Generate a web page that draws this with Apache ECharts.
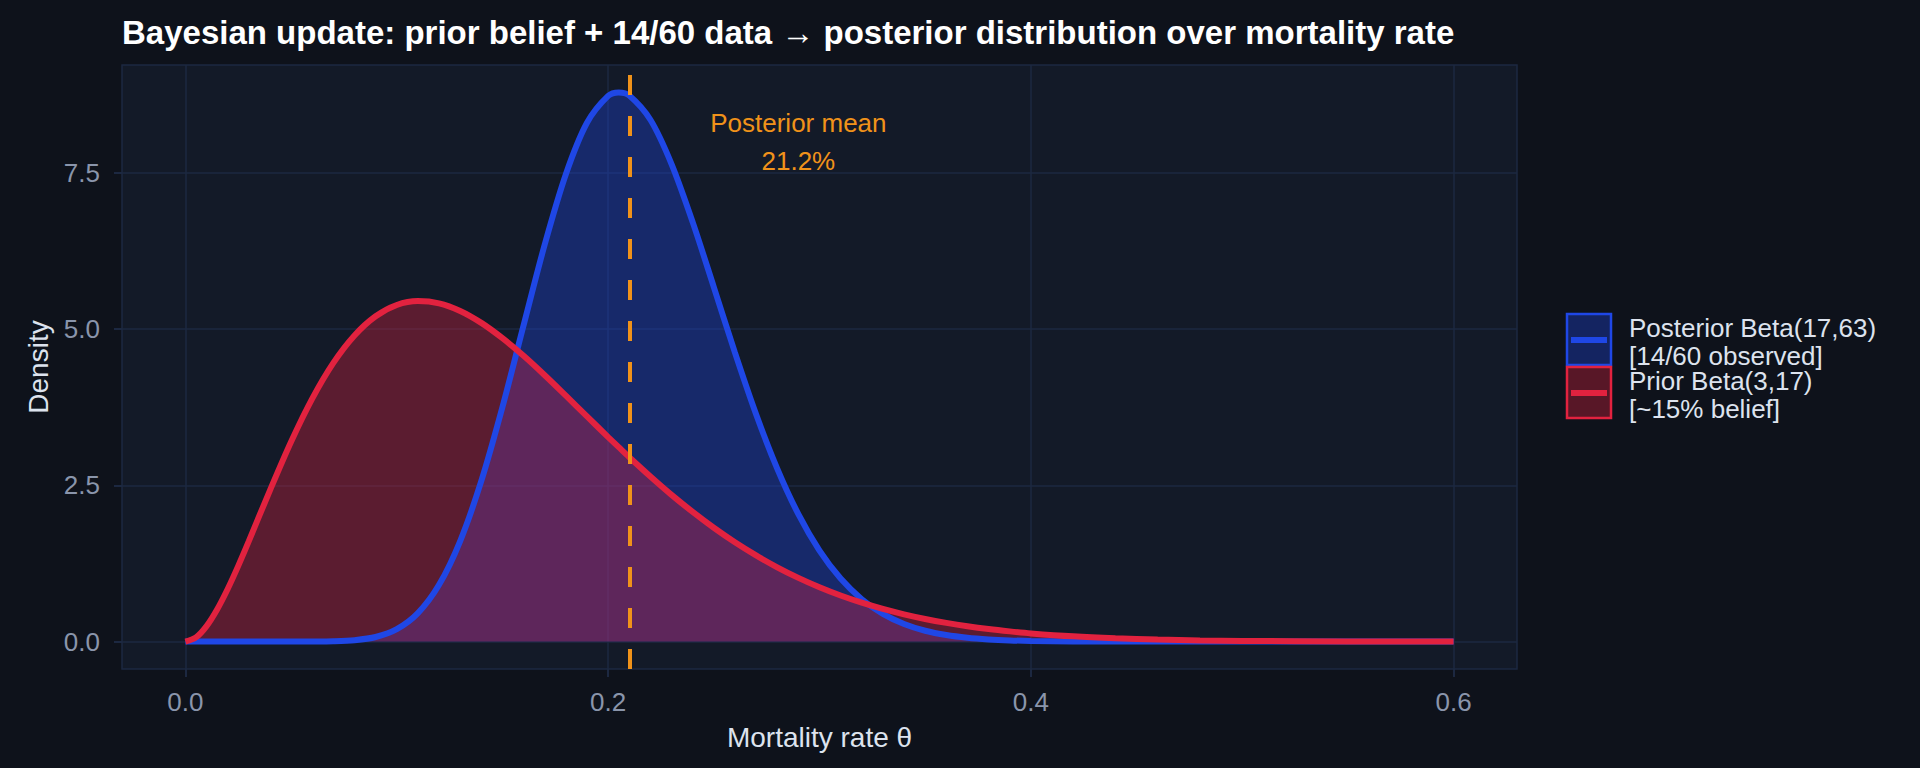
<!DOCTYPE html>
<html>
<head>
<meta charset="utf-8">
<title>Bayesian update</title>
<script src="https://cdn.jsdelivr.net/npm/echarts@6.0.0/dist/echarts.min.js"></script>
<style>
  html, body { margin: 0; padding: 0; background: #0e121b; }
  #main { width: 1920px; height: 768px; }
</style>
</head>
<body>
<div id="main"></div>
<script>
// mortality rate grid (theta) and the two densities
var theta = [0, 0.005, 0.01, 0.015, 0.02, 0.025, 0.03, 0.04, 0.05, 0.06, 0.07, 0.08, 0.09,
  0.10, 0.11, 0.12, 0.13, 0.14, 0.15, 0.16, 0.17, 0.18, 0.19,
  0.20, 0.205, 0.21, 0.22, 0.23, 0.24, 0.25, 0.26, 0.27, 0.28, 0.29,
  0.30, 0.31, 0.32, 0.33, 0.34, 0.35, 0.36, 0.37, 0.38, 0.39,
  0.40, 0.42, 0.44, 0.46, 0.48, 0.50, 0.55, 0.60];
var priorDensity = [0, 0.067, 0.248, 0.514, 0.842, 1.212, 1.607, 2.421, 3.199, 3.889, 4.461, 4.900, 5.207,
  5.387, 5.450, 5.414, 5.292, 5.101, 4.856, 4.573, 4.262, 3.935, 3.604,
  3.273, 3.111, 2.950, 2.642, 2.348, 2.075, 1.821, 1.589, 1.379, 1.189, 1.020,
  0.870, 0.738, 0.622, 0.522, 0.436, 0.362, 0.299, 0.245, 0.200, 0.163,
  0.131, 0.084, 0.053, 0.032, 0.019, 0.011, 0.0025, 0.0005];
var postDensity = [0, 0, 0, 0, 0, 0, 0, 0, 0.0001, 0.0008, 0.005, 0.022, 0.073,
  0.198, 0.455, 0.908, 1.609, 2.571, 3.754, 5.062, 6.355, 7.480, 8.303,
  8.733, 8.789, 8.739, 8.351, 7.642, 6.713, 5.674, 4.624, 3.638, 2.769, 2.039,
  1.456, 1.008, 0.678, 0.443, 0.281, 0.173, 0.104, 0.061, 0.035, 0.019,
  0.010, 0.003, 0.001, 0, 0, 0, 0, 0];
var xTicks = [0, 0.2, 0.4, 0.6];
var yTicks = [0, 2.5, 5, 7.5];
var posteriorMean = 0.2125;
var meanLabel = 'Posterior mean\n21.2%';
var meanLabelAt = [0.29, 8.0];
var legendLines = [['Posterior Beta(17,63)', '[14/60 observed]'], ['Prior Beta(3,17)', '[~15% belief]']];

var BLUE = '#1f47e6', RED = '#e2223f', ORANGE = '#f0921a';
var BLUE_FILL = 'rgba(31,71,230,0.35)', RED_FILL = 'rgba(226,34,63,0.35)';
var GRID = '#1c2841';
var FONT = '"Liberation Sans", Arial, Helvetica, sans-serif';

function pairs(ys) {
  var out = [];
  for (var i = 0; i < theta.length; i++) out.push([theta[i], ys[i]]);
  return out;
}

var dom = document.getElementById('main');
var myChart = echarts.init(dom, null, { renderer: 'svg' });

// legend drawn by hand: filled key with border and a line through it
var legendGraphic = [];
var keyColors = [[BLUE, BLUE_FILL], [RED, RED_FILL]];
for (var k = 0; k < 2; k++) {
  var keyTop = 314 + k * 53;
  legendGraphic.push({ type: 'rect', x: 1567, y: keyTop, shape: { x: 0, y: 0, width: 44, height: 51 },
    style: { fill: keyColors[k][1], stroke: keyColors[k][0], lineWidth: 2.5 } });
  legendGraphic.push({ type: 'line', shape: { x1: 1571, y1: keyTop + 26, x2: 1607, y2: keyTop + 26 },
    style: { stroke: keyColors[k][0], lineWidth: 6 } });
  for (var j = 0; j < 2; j++) {
    legendGraphic.push({ type: 'text', x: 1629, y: keyTop + 14 + j * 28,
      style: { text: legendLines[k][j], fill: '#dde3ee', font: '26px ' + FONT,
        lineHeight: 24, verticalAlign: 'middle' } });
  }
}

var option = {
  backgroundColor: '#0e121b',
  animation: false,
  title: {
    text: 'Bayesian update: prior belief + 14/60 data \u2192 posterior distribution over mortality rate',
    left: 117, top: 11,
    textStyle: { color: '#ffffff', fontSize: 33, fontWeight: 'bold', fontFamily: FONT }
  },
  grid: {
    left: 122, right: 403, top: 65, bottom: 99,
    show: true, backgroundColor: '#131a28', borderColor: GRID, borderWidth: 1.5
  },
  xAxis: {
    type: 'value', min: -0.03, max: 0.63,
    name: 'Mortality rate \u03b8', nameLocation: 'middle', nameGap: 54,
    nameTextStyle: { color: '#dde3ee', fontSize: 28, fontFamily: FONT },
    axisLine: { show: false, onZero: false },
    axisTick: { show: true, length: 8, customValues: xTicks, lineStyle: { color: GRID, width: 2 } },
    axisLabel: { customValues: xTicks, margin: 20, color: '#8a95ab', fontSize: 26, fontFamily: FONT,
      formatter: function (v) { return v.toFixed(1); } },
    splitLine: { show: true, lineStyle: { color: GRID, width: 1.5 } }
  },
  yAxis: {
    type: 'value', min: -0.439, max: 9.228,
    name: 'Density', nameLocation: 'middle', nameGap: 68,
    nameTextStyle: { color: '#dde3ee', fontSize: 28, fontFamily: FONT },
    axisLine: { show: false, onZero: false },
    axisTick: { show: true, length: 8, customValues: yTicks, lineStyle: { color: GRID, width: 2 } },
    axisLabel: { customValues: yTicks, margin: 22, color: '#8a95ab', fontSize: 26, fontFamily: FONT,
      formatter: function (v) { return v.toFixed(1); } },
    splitLine: { show: true, lineStyle: { color: GRID, width: 1.5 } }
  },
  series: [
    {
      name: 'posterior fill', type: 'line', data: pairs(postDensity),
      smooth: 0.3, showSymbol: false, symbol: 'none',
      lineStyle: { width: 0 }, areaStyle: { color: BLUE_FILL, opacity: 1, origin: 0 }, silent: true
    },
    {
      name: 'prior fill', type: 'line', data: pairs(priorDensity),
      smooth: 0.3, showSymbol: false, symbol: 'none',
      lineStyle: { width: 0 }, areaStyle: { color: RED_FILL, opacity: 1, origin: 0 }, silent: true
    },
    {
      name: 'Posterior', type: 'line', data: pairs(postDensity),
      smooth: 0.3, showSymbol: false, symbol: 'none',
      lineStyle: { width: 6, color: BLUE, cap: 'butt' }
    },
    {
      name: 'Prior', type: 'line', data: pairs(priorDensity),
      smooth: 0.3, showSymbol: false, symbol: 'none',
      lineStyle: { width: 6, color: RED, cap: 'butt' },
      markLine: {
        silent: true, symbol: 'none', label: { show: false },
        lineStyle: { color: ORANGE, width: 4, type: [20, 21] },
        data: [{ xAxis: posteriorMean }]
      },
      markPoint: {
        silent: true, symbol: 'circle', symbolSize: 0,
        label: {
          show: true, position: 'inside', color: ORANGE, fontSize: 26, lineHeight: 38,
          fontFamily: FONT, align: 'center', verticalAlign: 'middle',
          formatter: meanLabel
        },
        data: [{ coord: meanLabelAt }]
      }
    }
  ],
  graphic: legendGraphic
};

myChart.setOption(option);
</script>
</body>
</html>
